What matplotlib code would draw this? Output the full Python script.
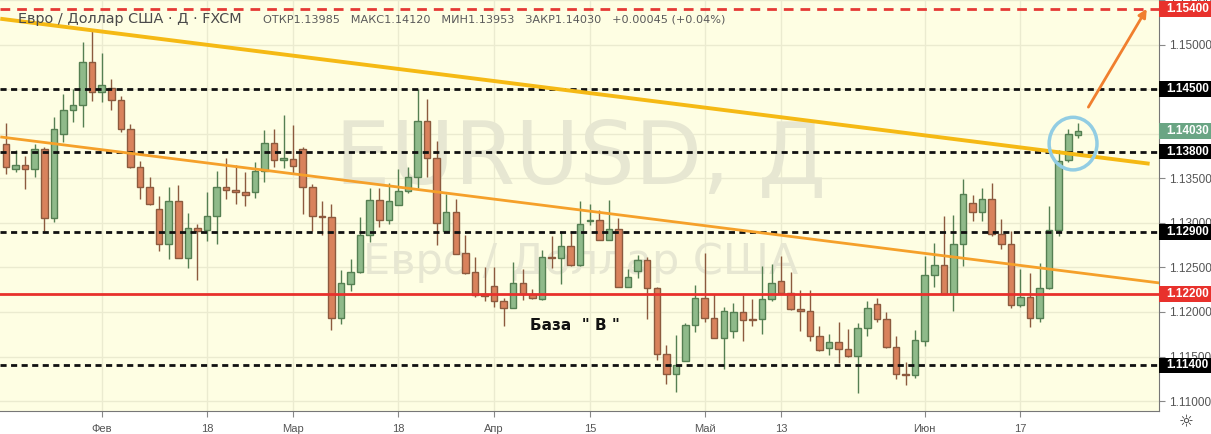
import numpy as np
import pandas as pd
import matplotlib
matplotlib.use("Agg")
import matplotlib.pyplot as plt
import matplotlib.transforms as mtransforms
from matplotlib.patches import Ellipse, Rectangle

# === ДАННЫЕ (EUR/USD, дневки FXCM) ===
opens = [1.13889, 1.13604, 1.13648, 1.13604, 1.13830, 1.13054, 1.14001, 1.14261, 1.14317, 1.14800,
         1.14473, 1.14513, 1.14373, 1.14050, 1.13626, 1.13403, 1.13158, 1.12757, 1.13247, 1.12608,
         1.12942, 1.12924, 1.13080, 1.13403, 1.13370, 1.13348, 1.13343, 1.13582, 1.13897, 1.13704,
         1.13715, 1.13827, 1.13403, 1.13080, 1.13069, 1.11933, 1.12311, 1.12445, 1.12869, 1.13259,
         1.13036, 1.13203, 1.13359, 1.13515, 1.14139, 1.13733, 1.12903, 1.13123, 1.12657, 1.12443,
         1.12200, 1.12289, 1.12125, 1.12044, 1.12323, 1.12200, 1.12144, 1.12619, 1.12608, 1.12738,
         1.12523, 1.13025, 1.13036, 1.12813, 1.12931, 1.12285, 1.12460, 1.12579, 1.12274, 1.11532,
         1.11309, 1.11454, 1.11858, 1.12156, 1.11933, 1.11710, 1.11791, 1.11999, 1.11921, 1.11921,
         1.12144, 1.12348, 1.12218, 1.12033, 1.12014, 1.11728, 1.11594, 1.11661, 1.11587, 1.11505,
         1.11821, 1.12089, 1.11921, 1.11605, 1.11309, 1.11298, 1.11669, 1.12415, 1.12523, 1.12207,
         1.12757, 1.13221, 1.13120, 1.13270, 1.12880, 1.12768, 1.12081, 1.12173, 1.11933, 1.12267,
         1.12924, 1.13704, 1.13985]
highs = [1.14120, 1.13819, 1.13752, 1.13889, 1.13852, 1.14187, 1.14446, 1.14502, 1.15033, 1.15170,
         1.14900, 1.14610, 1.14421, 1.14109, 1.13696, 1.13510, 1.13306, 1.13407, 1.13429, 1.13106,
         1.12983, 1.13351, 1.13585, 1.13722, 1.13652, 1.13574, 1.13685, 1.14042, 1.14053, 1.14209,
         1.14101, 1.13852, 1.13432, 1.13247, 1.13210, 1.12467, 1.12590, 1.13061, 1.13396, 1.13388,
         1.13451, 1.13600, 1.13630, 1.14502, 1.14391, 1.13916, 1.13318, 1.13273, 1.12864, 1.12612,
         1.12504, 1.12504, 1.12162, 1.12560, 1.12479, 1.12256, 1.12690, 1.12850, 1.12905, 1.12905,
         1.13247, 1.13210, 1.13147, 1.13259, 1.13054, 1.12479, 1.12638, 1.12612, 1.12280, 1.11635,
         1.11747, 1.11873, 1.12304, 1.12664, 1.12200, 1.12051, 1.12100, 1.12192, 1.12144, 1.12515,
         1.12541, 1.12627, 1.12452, 1.12248, 1.12248, 1.11847, 1.11754, 1.11891, 1.11810, 1.11873,
         1.12125, 1.12156, 1.11995, 1.11735, 1.11438, 1.11799, 1.12627, 1.12772, 1.13073, 1.13091,
         1.13488, 1.13314, 1.13388, 1.13444, 1.13047, 1.12905, 1.12479, 1.12441, 1.12545, 1.13184,
         1.13816, 1.14056, 1.14120]
lows = [1.13544, 1.13574, 1.13377, 1.13518, 1.12905, 1.13006, 1.13908, 1.14131, 1.14075, 1.14365,
        1.14354, 1.14261, 1.14020, 1.13620, 1.13262, 1.13205, 1.12683, 1.12593, 1.12600, 1.12496,
        1.12359, 1.12794, 1.12764, 1.13265, 1.13210, 1.13184, 1.13276, 1.13462, 1.13622, 1.13611,
        1.13555, 1.13098, 1.12913, 1.12869, 1.11799, 1.11866, 1.12237, 1.12440, 1.12786, 1.12953,
        1.12987, 1.13200, 1.13332, 1.13388, 1.13518, 1.12746, 1.12900, 1.12650, 1.12423, 1.12170,
        1.12125, 1.12051, 1.11847, 1.12040, 1.12137, 1.12150, 1.12133, 1.12490, 1.12318, 1.12515,
        1.12520, 1.12980, 1.12810, 1.12810, 1.12280, 1.12280, 1.12378, 1.11925, 1.11457, 1.11190,
        1.11104, 1.11446, 1.11772, 1.11884, 1.11705, 1.11364, 1.11710, 1.11672, 1.11847, 1.11754,
        1.12125, 1.12215, 1.12022, 1.11783, 1.11672, 1.11565, 1.11520, 1.11431, 1.11494, 1.11086,
        1.11735, 1.11884, 1.11600, 1.11253, 1.11178, 1.11260, 1.11616, 1.12276, 1.12200, 1.12014,
        1.12515, 1.13017, 1.13017, 1.12850, 1.12701, 1.12044, 1.12051, 1.11836, 1.11892, 1.12260,
        1.12850, 1.13678, 1.13953]
closes = [1.13626, 1.13648, 1.13604, 1.13830, 1.13054, 1.14056, 1.14261, 1.14317, 1.14800, 1.14473,
          1.14551, 1.14373, 1.14050, 1.13626, 1.13403, 1.13210, 1.12757, 1.13247, 1.12608, 1.12942,
          1.12905, 1.13080, 1.13403, 1.13370, 1.13343, 1.13314, 1.13582, 1.13897, 1.13704, 1.13722,
          1.13637, 1.13399, 1.13080, 1.13065, 1.11933, 1.12323, 1.12445, 1.12869, 1.13259, 1.13036,
          1.13247, 1.13359, 1.13515, 1.14139, 1.13733, 1.12998, 1.13123, 1.12655, 1.12441, 1.12192,
          1.12181, 1.12125, 1.12044, 1.12323, 1.12200, 1.12156, 1.12619, 1.12605, 1.12738, 1.12523,
          1.12991, 1.13036, 1.12813, 1.12931, 1.12285, 1.12396, 1.12579, 1.12274, 1.11532, 1.11309,
          1.11401, 1.11858, 1.12156, 1.11933, 1.11710, 1.12006, 1.11999, 1.11910, 1.11910, 1.12144,
          1.12323, 1.12218, 1.12033, 1.12006, 1.11728, 1.11568, 1.11661, 1.11587, 1.11505, 1.11821,
          1.12044, 1.11921, 1.11605, 1.11309, 1.11298, 1.11688, 1.12415, 1.12524, 1.12207, 1.12757,
          1.13321, 1.13120, 1.13270, 1.12880, 1.12768, 1.12081, 1.12173, 1.11933, 1.12267, 1.12924,
          1.13693, 1.13994, 1.14030]

dates = pd.bdate_range("2019-01-18", periods=len(closes))
tick_dates = ["2019-02-01", "2019-02-18", "2019-03-01", "2019-03-18", "2019-04-01",
              "2019-04-15", "2019-05-01", "2019-05-13", "2019-06-03", "2019-06-17"]
tick_labels = ["Фев", "18", "Мар", "18", "Апр", "15", "Май", "13", "Июн", "17"]

# уровни
black_levels = [1.14500, 1.13800, 1.12900, 1.11400]
red_level = 1.12200
target_level = 1.15400
last_price = 1.14030

# трендовые линии (индекс бара, цена)
yellow_line = ([-0.6, 119.5], [1.15290, 1.13663])
orange_line = ([-0.6, 120.5], [1.13964, 1.12326])
arrow_from = (113.1, 1.14298)
arrow_to = (119.2, 1.15401)
circle_center = (111.5, 1.13889)

header = "Евро / Доллар США · Д · FXCM"
ohlc_text = "ОТКР1.13985   МАКС1.14120   МИН1.13953   ЗАКР1.14030   +0.00045 (+0.04%)"

# === ЦВЕТА ===
BG = "#fefee3"
UP_FILL, UP_EDGE = "#8fba8a", "#557f52"
DN_FILL, DN_EDGE = "#d9825c", "#8c5a3e"
AXFONT = "Liberation Sans"

fig = plt.figure(figsize=(12.11, 4.34), dpi=100)
ax = fig.add_axes([0, 23 / 434, 1159 / 1211, 411 / 434])
ax.set_facecolor(BG)

x = np.arange(len(closes))
o = np.array(opens); h = np.array(highs); l = np.array(lows); c = np.array(closes)
up = c >= o

# фитили
ax.vlines(x[up], l[up], h[up], color=UP_EDGE, lw=1, zorder=3)
ax.vlines(x[~up], l[~up], h[~up], color=DN_EDGE, lw=1, zorder=3)
# тела
body = np.maximum(np.abs(c - o), 0.00008)
ax.bar(x[up], body[up], bottom=np.minimum(o, c)[up], width=0.68,
       color=UP_FILL, edgecolor=UP_EDGE, lw=1, zorder=4)
ax.bar(x[~up], body[~up], bottom=np.minimum(o, c)[~up], width=0.68,
       color=DN_FILL, edgecolor=DN_EDGE, lw=1, zorder=4)

# === ЛИНИИ ===
for lv in black_levels:
    ax.axhline(lv, color="#111111", lw=2, ls=(0, (2.2, 1.6)), zorder=5)
ax.axhline(red_level, color="#e8312c", lw=2, zorder=5)
ax.axhline(target_level, color="#e53935", lw=2, ls=(0, (3.5, 2.5)), zorder=5)

ax.plot(*yellow_line, color="#f5b914", lw=2.8, zorder=6, solid_capstyle="butt")
ax.plot(*orange_line, color="#f5a02a", lw=2, zorder=6, solid_capstyle="butt")

ax.add_patch(Ellipse(circle_center, 5.0, 0.0059, fill=False,
                     ec="#92cde3", lw=2.5, zorder=7))
ax.annotate("", xy=arrow_to, xytext=arrow_from,
            arrowprops=dict(arrowstyle="-|>", color="#f07f2e", lw=2,
                            mutation_scale=12, shrinkA=0, shrinkB=0), zorder=7)

ax.text(59.5, 1.11847, 'База  " В "', fontsize=11, fontweight="bold",
        ha="center", va="center", color="#111111", zorder=8)

# водяной знак
ax.text(60.0, 1.13710, "EURUSD, Д", fontsize=63, color="#e7e7d2",
        ha="center", va="center", zorder=1)
ax.text(60.0, 1.12560, "Евро / Доллар США", fontsize=31, color="#e7e7d2",
        ha="center", va="center", zorder=1)

# === ОСИ ===
ax.set_xlim(-0.63, 120.48)
ax.set_ylim(1.10889, 1.15468)

yt = np.arange(1.110, 1.1551, 0.005)
ax.yaxis.tick_right()
ax.set_yticks(yt)
ax.set_yticklabels([f"{v:.5f}" for v in yt], fontfamily=AXFONT)
ax.tick_params(axis="y", length=4, color="#888888", labelcolor="#555555",
               labelsize=8.5, pad=3)

tick_pos = [dates.get_loc(pd.Timestamp(d)) for d in tick_dates]
ax.set_xticks(tick_pos)
ax.set_xticklabels(tick_labels, fontfamily=AXFONT)
ax.tick_params(axis="x", length=4, color="#888888", labelcolor="#555555",
               labelsize=8, pad=5)

ax.grid(True, color="#ebebd0", lw=1, zorder=0)
ax.set_axisbelow(True)
for side in ["top", "left"]:
    ax.spines[side].set_visible(False)
ax.spines["right"].set_color("#777777")
ax.spines["bottom"].set_color("#777777")

# подписи уровней на правой шкале
trans = mtransforms.blended_transform_factory(ax.transAxes, ax.transData)
box_w = 52 / 1159
box_h = 16 * (1.15468 - 1.10889) / 411
labels = [(target_level, "#e8312c"), (red_level, "#e8312c"), (last_price, "#6aa584")]
labels += [(lv, "#000000") for lv in black_levels]
for lv, col in labels:
    ax.add_patch(Rectangle((1.0, lv - box_h / 2), box_w, box_h, transform=trans,
                           fc=col, ec="none", clip_on=False, zorder=9))
    ax.text(1.0 + 7 / 1159, lv, f"{lv:.5f}", transform=trans, fontsize=8.5,
            fontfamily=AXFONT, color="white", fontweight="bold",
            ha="left", va="center", clip_on=False, zorder=10)

# заголовок
fig.text(18 / 1211, 1 - 23 / 434, header, fontsize=10.4, color="#4a4a4a",
         va="baseline", ha="left")
fig.text(263 / 1211, 1 - 23 / 434, ohlc_text, fontsize=8.1, color="#5a5a5a",
         va="baseline", ha="left")
fig.text(1186 / 1211, 1 - 422 / 434, "☼", fontsize=12, color="#333333",
         ha="center", va="center")

fig.savefig("out.png", dpi=100, facecolor="white")
